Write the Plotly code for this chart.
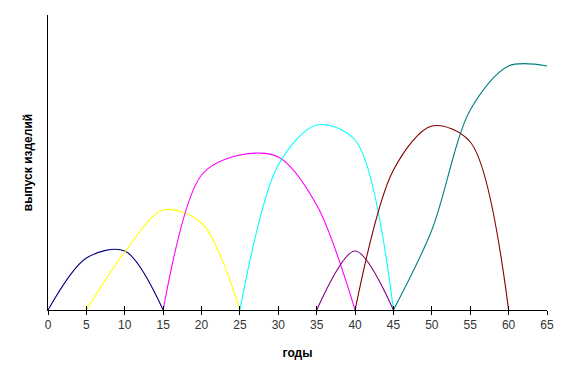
import plotly.graph_objects as go

# years and output for each product generation (arbitrary units)
navy_x = [0, 5, 10, 15]
navy_y = [0, 52, 59, 0]
yellow_x = [5, 10, 15, 20, 25]
yellow_y = [0, 58, 100, 87, 0]
magenta_x = [15, 20, 25, 30, 35, 40]
magenta_y = [0, 135, 155, 153, 105, 0]
cyan_x = [25, 30, 35, 40, 45]
cyan_y = [0, 145, 185, 170, 0]
purple_x = [35, 40, 45]
purple_y = [0, 59, 0]
maroon_x = [40, 45, 50, 55, 60]
maroon_y = [0, 140, 184, 168, 0]
teal_x = [45, 50, 55, 60, 65]
teal_y = [0, 80, 200, 244, 244]

x_ticks = list(range(0, 70, 5))

series = [
    (navy_x, navy_y, "#000080"),
    (yellow_x, yellow_y, "#FFFF00"),
    (magenta_x, magenta_y, "#FF00FF"),
    (cyan_x, cyan_y, "#00FFFF"),
    (purple_x, purple_y, "#800080"),
    (maroon_x, maroon_y, "#800000"),
    (teal_x, teal_y, "#008080"),
]

fig = go.Figure()
for xs, ys, c in series:
    fig.add_trace(go.Scatter(x=xs, y=ys, mode="lines",
                             line=dict(color=c, width=1.1, shape="spline", smoothing=0.9),
                             showlegend=False, hoverinfo="skip"))
# invisible trace for the inner tick axis
fig.add_trace(go.Scatter(x=[0, 65], y=[0, 0], xaxis="x2", mode="lines",
                         line=dict(width=0), showlegend=False, hoverinfo="skip"))

font = dict(family="Liberation Sans, Arial, sans-serif", size=12, color="#333333")
fig.update_layout(
    width=563, height=372,
    margin=dict(l=40, r=24, t=7, b=70),
    paper_bgcolor="white", plot_bgcolor="white",
    font=font,
    xaxis=dict(range=[0, 65], tickvals=x_ticks, ticks="outside", ticklen=4,
               tickcolor="black", tickwidth=1, showline=True, linecolor="black",
               linewidth=1, showgrid=False, zeroline=False, automargin=False,
               tickfont=dict(size=12, color="#333333"),
               title=dict(text="<b>годы</b>", font=dict(size=12, color="black"), standoff=17)),
    xaxis2=dict(range=[0, 65], tickvals=x_ticks, ticks="inside", ticklen=4,
                tickcolor="black", tickwidth=1, showticklabels=False, overlaying="x",
                anchor="y", side="bottom", showgrid=False, zeroline=False, showline=False,
                automargin=False),
    yaxis=dict(range=[0, 295], showticklabels=False, ticks="", showgrid=False,
               zeroline=False, showline=True, linecolor="black", linewidth=1,
               automargin=False,
               title=dict(text="<b>выпуск изделий</b>", font=dict(size=12, color="black"), standoff=11)),
)
fig.write_html("out.html")
